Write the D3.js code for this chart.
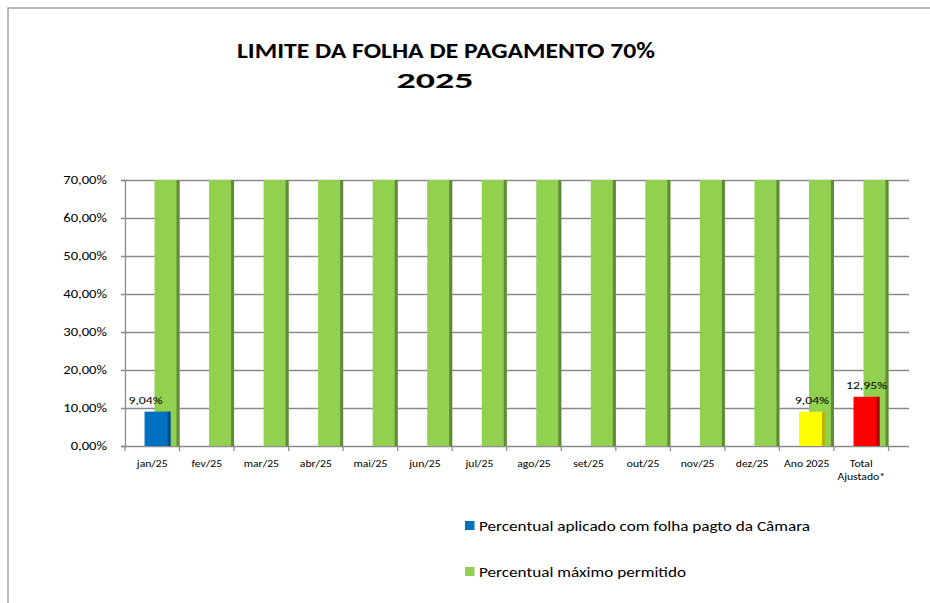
<!DOCTYPE html>
<html>
<head>
<meta charset="utf-8">
<script src="https://cdn.jsdelivr.net/npm/d3@7"></script>
<style>
  html, body { margin: 0; padding: 0; background: #fff; }
  svg { display: block; font-family: Carlito, Calibri, Lato, "Open Sans", sans-serif; }
</style>
</head>
<body>
<script>
var categories = ['jan/25', 'fev/25', 'mar/25', 'abr/25', 'mai/25', 'jun/25', 'jul/25',
  'ago/25', 'set/25', 'out/25', 'nov/25', 'dez/25', 'Ano 2025', 'Total Ajustado*']
var aplicado = [9.04, null, null, null, null, null, null, null, null, null, null, null, 9.04, 12.95]
var maximo = [70, 70, 70, 70, 70, 70, 70, 70, 70, 70, 70, 70, 70, 70]
var yTicks = [0, 10, 20, 30, 40, 50, 60, 70]
var legendLabels = ['Percentual aplicado com folha pagto da Câmara', 'Percentual máximo permitido']

var width = 930, height = 603
var svg = d3.select('body').append('svg').attr('width', width).attr('height', height)

// the original picture is a bit stretched sideways
function stretch(sel, k) {
  sel.each(function() {
    var w = this.getComputedTextLength()
    d3.select(this).attr('textLength', w * k).attr('lengthAdjust', 'spacingAndGlyphs')
  })
}

// chart frame (cut off at right / bottom)
svg.append('path')
  .attr('d', 'M 8 ' + height + ' V 8 H ' + width)
  .attr('fill', 'none').attr('stroke', '#a3a3a3').attr('stroke-width', 1.5)

// title
var title = svg.append('text')
  .attr('text-anchor', 'middle').attr('font-weight', 'bold').attr('font-size', 23).attr('fill', '#000')
title.append('tspan').attr('x', 446).attr('y', 58)
  .attr('textLength', 418).attr('lengthAdjust', 'spacingAndGlyphs')
  .text('LIMITE DA FOLHA DE PAGAMENTO 70%')
title.append('tspan').attr('x', 435).attr('y', 88)
  .attr('textLength', 77).attr('lengthAdjust', 'spacingAndGlyphs')
  .text('2025')

var plot = {left: 125, right: 888.5, top: 180, bottom: 446, gridEnd: 909}

var x = d3.scaleBand().domain(categories).range([plot.left, plot.right])
var y = d3.scaleLinear().domain([0, 70]).range([plot.bottom, plot.top])
var fmt = d => d3.format('.2f')(d).replace('.', ',') + '%'

// gridlines
svg.append('g').selectAll('line').data(yTicks).join('line')
  .attr('x1', plot.left - 4).attr('x2', plot.gridEnd)
  .attr('y1', d => Math.round(y(d)) + 0.5).attr('y2', d => Math.round(y(d)) + 0.5)
  .attr('stroke', '#8a8a8a').attr('stroke-width', 1.3)

// y axis
var yAxis = svg.append('g').attr('transform', 'translate(' + plot.left + ',0)')
  .call(d3.axisLeft(y).tickValues(yTicks).tickFormat(fmt).tickSize(4).tickPadding(14))
yAxis.select('.domain').attr('stroke', '#8a8a8a').attr('stroke-width', 1.3)
yAxis.selectAll('.tick line').attr('stroke', '#8a8a8a')
yAxis.selectAll('text').attr('font-size', 12).attr('fill', '#000')
  .attr('font-family', 'Carlito, Calibri, Lato, sans-serif')
  .call(stretch, 1.22)

// x axis ticks at category boundaries
var bounds = categories.map(c => x(c)).concat([plot.right])
svg.append('g').selectAll('line').data(bounds).join('line')
  .attr('x1', d => d).attr('x2', d => d)
  .attr('y1', plot.bottom).attr('y2', plot.bottom + 5)
  .attr('stroke', '#8a8a8a').attr('stroke-width', 1.2)

// x labels
svg.append('g').selectAll('text').data(categories).join('text')
  .attr('text-anchor', 'middle').attr('font-size', 11).attr('fill', '#000')
  .attr('x', d => x(d) + x.bandwidth() / 2)
  .attr('y', 467)
  .each(function(d) {
    var words = d === 'Total Ajustado*' ? ['Total', 'Ajustado*'] : [d]
    d3.select(this).selectAll('tspan').data(words).join('tspan')
      .attr('x', x(d) + x.bandwidth() / 2)
      .attr('dy', (w, i) => i ? 13 : 0)
      .text(w => w)
      .call(stretch, 1.06)
  })

function barColor(i) {
  if (categories[i] === 'Ano 2025') return ['#ffff00', '#b5b500']
  if (categories[i] === 'Total Ajustado*') return ['#ff0000', '#a80000']
  return ['#0070c0', '#004b85']
}

var greenW = 25, blueW = 26, edge = 3
var greenOff = x.bandwidth() - greenW
var blueOff = x.bandwidth() - 35

// green bars (máximo)
var gG = svg.append('g').selectAll('g').data(maximo).join('g')
gG.append('rect')
  .attr('x', (d, i) => x(categories[i]) + greenOff).attr('width', greenW)
  .attr('y', d => y(d)).attr('height', d => y(0) - y(d))
  .attr('fill', '#92d050')
gG.append('rect')
  .attr('x', (d, i) => x(categories[i]) + greenOff + greenW - edge).attr('width', edge)
  .attr('y', d => y(d)).attr('height', d => y(0) - y(d))
  .attr('fill', '#5f8a37')

// aplicado bars
var aData = aplicado.map((v, i) => ({v, i})).filter(d => d.v != null)
var aG = svg.append('g').selectAll('g').data(aData).join('g')
aG.append('rect')
  .attr('x', d => x(categories[d.i]) + blueOff).attr('width', blueW)
  .attr('y', d => y(d.v)).attr('height', d => y(0) - y(d.v))
  .attr('fill', d => barColor(d.i)[0])
aG.append('rect')
  .attr('x', d => x(categories[d.i]) + blueOff + blueW - edge).attr('width', edge)
  .attr('y', d => y(d.v)).attr('height', d => y(0) - y(d.v))
  .attr('fill', d => barColor(d.i)[1])
aG.append('text')
  .attr('text-anchor', 'middle').attr('font-size', 11).attr('fill', '#000')
  .attr('x', d => x(categories[d.i]) + blueOff + blueW / 2 - (d.i === 0 ? 12 : 0))
  .attr('y', d => y(d.v) - 8)
  .text(d => fmt(d.v))
  .call(stretch, 1.25)

// legend
var legendW = [331, 207]
var legend = svg.append('g').selectAll('g').data(legendLabels).join('g')
  .attr('transform', (d, i) => 'translate(465,' + (521 + i * 46) + ')')
legend.append('rect').attr('width', 9.5).attr('height', 9)
  .attr('fill', (d, i) => i ? '#92d050' : '#0070c0')
legend.append('text').attr('x', 14).attr('y', 9.5).attr('font-size', 15).attr('fill', '#000')
  .attr('textLength', (d, i) => legendW[i]).attr('lengthAdjust', 'spacingAndGlyphs')
  .text(d => d)
</script>
</body>
</html>
